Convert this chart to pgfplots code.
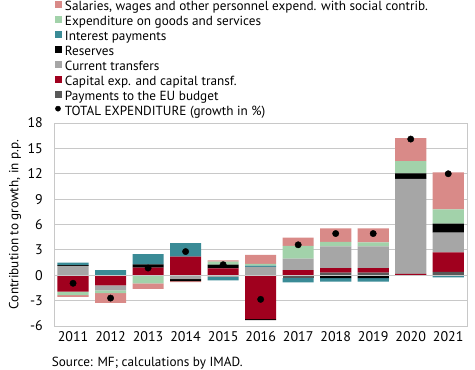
\documentclass[border=0pt]{standalone}
\usepackage{fontspec}
\setmainfont{PT Sans}
\usepackage{pgfplots}
\usepackage{pgfplotstable}
\pgfplotsset{compat=1.18}

\definecolor{salc}{HTML}{D98A88}
\definecolor{gooc}{HTML}{A2D2AA}
\definecolor{intc}{HTML}{3A8B96}
\definecolor{resc}{HTML}{000000}
\definecolor{curc}{HTML}{A6A6A6}
\definecolor{capc}{HTML}{A0001E}
\definecolor{euc}{HTML}{595959}
\definecolor{gridc}{HTML}{C8C8C8}

% positive contributions
\pgfplotstableread{
x eu cap cur res int goods sal
0 0 0 1.1 0.1 0.3 0 0
1 0 0 0 0 0.6 0 0
2 0 0.9 0 0.4 1.2 0 0
3 0 2.2 0 0 1.6 0 0
4 0 0.8 0 0.45 0 0.35 0.15
5 0 0 1.0 0 0.15 0.2 1.05
6 0 0.6 1.37 0 0 1.51 0.98
7 0.3 0.55 2.55 0 0 0.55 1.6
8 0.3 0.55 2.55 0 0 0.5 1.65
9 0 0.15 11.25 0.65 0 1.45 2.7
10 0.4 2.3 2.35 1.05 0 1.7 4.35
}\postab

% negative contributions
\pgfplotstableread{
x eu cap cur res int goods sal
0 0 -1.95 0 0 0 -0.4 -0.2
1 0 -1.2 -0.6 0 0 -0.32 -1.15
2 0 0 0 0 0 -0.95 -0.65
3 0 0 -0.45 -0.25 0 0 -0.1
4 0 0 -0.2 0 -0.4 0 0
5 0 -5.2 0 -0.12 0 0 0
6 -0.35 0 0 0 -0.5 0 0
7 0 0 0 -0.35 -0.4 0 0
8 0 0 0 -0.35 -0.4 0 0
9 0 0 0 0 0 0 0
10 0 0 0 0 -0.25 0 0
}\negtab

% total expenditure growth
\pgfplotstableread{
x total
0 -0.95
1 -2.7
2 0.85
3 2.8
4 1.25
5 -2.85
6 3.6
7 4.93
8 4.93
9 16.1
10 12.0
}\tottab

\pgfplotsset{
  base/.style={
    scale only axis, width=412.7pt, height=203pt,
    at={(54.3pt,44pt)}, anchor=south west,
    xmin=-0.5, xmax=10.5, ymin=-6, ymax=18,
  },
}

\begin{document}
\begin{tikzpicture}[font=\fontsize{13.2}{15.8}\selectfont]
\useasboundingbox (0,0) rectangle (475pt,370pt);
% axis 1: frame, grid, positive stack, legend
\begin{axis}[base,
  ybar stacked, bar width=0.83,
  axis line style={gridc, line width=0.8pt},
  ymajorgrids, grid style={gridc, line width=0.8pt},
  ytick={-6,-3,0,3,6,9,12,15,18},
  xtick={0,...,10},
  xticklabels={2011,2012,2013,2014,2015,2016,2017,2018,2019,2020,2021},
  major tick length=0pt,
  /pgf/number format/assume math mode=true,
  ticklabel style={font=\fontsize{14}{16}\selectfont},
  yticklabel style={xshift=-8pt},
  xticklabel style={yshift=-2pt},
  ylabel={Contribution to growth, in p.p.},
  ylabel style={at={(axis description cs:-0.095,0.5)}, anchor=center},
  legend image code/.code={\fill[#1] (0pt,-0.5pt) rectangle (7pt,6.5pt);},
  reverse legend,
  legend cell align=left,
  legend style={draw=none, fill=none, at={(axis description cs:0,1)}, anchor=south west,
    yshift=5pt, inner sep=0pt,
    nodes={inner sep=0pt, text height=9.5pt, text depth=2.8pt},
    row sep=2.3pt,
    /tikz/every odd column/.append style={column sep=3.5pt}},
]
\addlegendimage{legend image code/.code={\fill[black] (3.5pt,3pt) circle (2.6pt);}}
\addlegendentry{TOTAL EXPENDITURE (growth in \%)}
\addplot[fill=euc, draw=none] table[x=x, y=eu] {\postab};
\addlegendentry{Payments to the EU budget}
\addplot[fill=capc, draw=none] table[x=x, y=cap] {\postab};
\addlegendentry{Capital exp. and capital transf.}
\addplot[fill=curc, draw=none] table[x=x, y=cur] {\postab};
\addlegendentry{Current transfers}
\addplot[fill=resc, draw=none] table[x=x, y=res] {\postab};
\addlegendentry{Reserves}
\addplot[fill=intc, draw=none] table[x=x, y=int] {\postab};
\addlegendentry{Interest payments}
\addplot[fill=gooc, draw=none] table[x=x, y=goods] {\postab};
\addlegendentry{Expenditure on goods and services}
\addplot[fill=salc, draw=none] table[x=x, y=sal] {\postab};
\addlegendentry{Salaries, wages and other personnel expend. with social contrib.}
\end{axis}
% axis 2: negative stack
\begin{axis}[base, hide axis, ybar stacked, bar width=0.83]
\addplot[fill=euc, draw=none] table[x=x, y=eu] {\negtab};
\addplot[fill=capc, draw=none] table[x=x, y=cap] {\negtab};
\addplot[fill=curc, draw=none] table[x=x, y=cur] {\negtab};
\addplot[fill=resc, draw=none] table[x=x, y=res] {\negtab};
\addplot[fill=intc, draw=none] table[x=x, y=int] {\negtab};
\addplot[fill=gooc, draw=none] table[x=x, y=goods] {\negtab};
\addplot[fill=salc, draw=none] table[x=x, y=sal] {\negtab};
\end{axis}
% axis 3: zero line and total dots
\begin{axis}[base, hide axis]
\addplot[gridc, line width=0.8pt] coordinates {(-0.5,0) (10.5,0)};
\addplot[only marks, mark=*, mark size=3.2pt, black] table[x=x, y=total] {\tottab};
\end{axis}
\node[anchor=west, inner sep=0pt] at (51.7pt,7pt) {Source: MF; calculations by IMAD.};
\end{tikzpicture}
\end{document}
